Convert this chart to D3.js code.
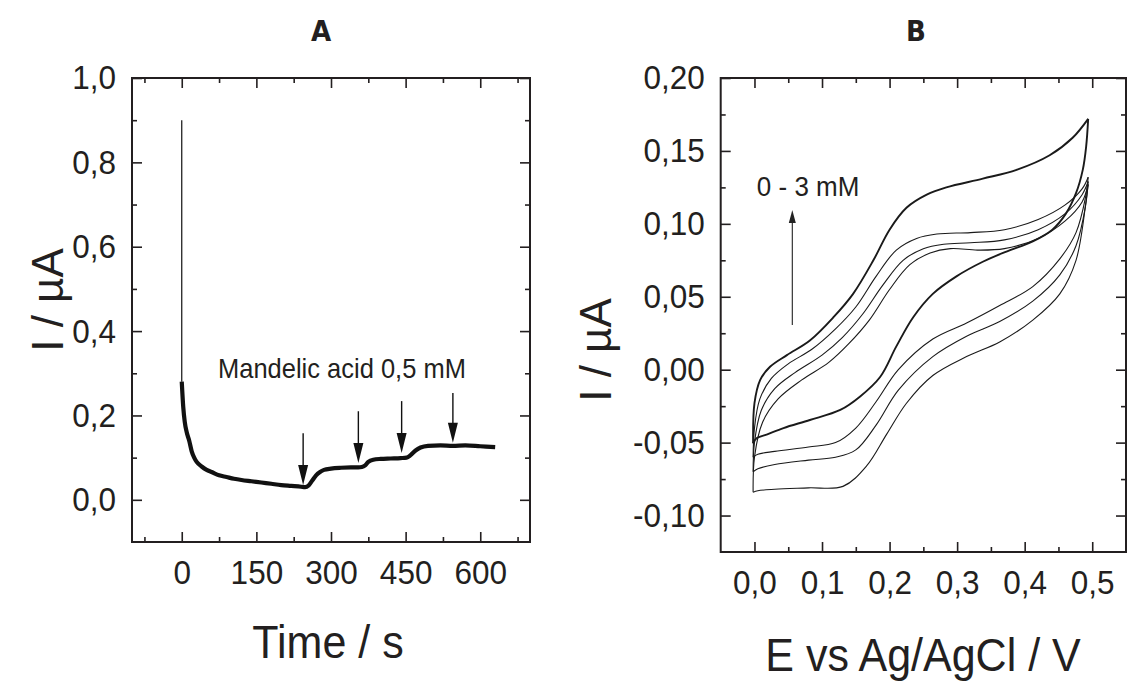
<!DOCTYPE html>
<html><head><meta charset="utf-8">
<script src="https://cdn.jsdelivr.net/npm/d3@7"></script>
<style>
html,body{margin:0;padding:0;background:#fff;}
svg{display:block;}
text{font-family:"Liberation Sans",Arial,sans-serif;fill:#231f20;}
.st{transform-box:fill-box;transform-origin:center;transform:scaleY(1.08);}
</style></head><body>
<svg id="c" width="1127" height="682"></svg>
<script>
// ---------- Panel A data (amperometry) ----------
const timeA = [0,3,6,10,15,20,25,30,40,50,60,75,90,105,120,140,160,180,200,220,240,248,255,262,270,278,286,300,320,340,355,362,368,375,385,400,420,440,452,460,470,480,495,520,545,570,600,630];
const currentA = [0.28,0.22,0.185,0.16,0.14,0.115,0.1,0.09,0.079,0.071,0.066,0.058,0.054,0.05,0.047,0.044,0.041,0.038,0.035,0.033,0.031,0.030,0.034,0.045,0.058,0.066,0.071,0.074,0.076,0.077,0.077,0.078,0.081,0.09,0.095,0.097,0.098,0.099,0.1,0.106,0.117,0.124,0.128,0.129,0.128,0.129,0.127,0.125];
const spikeTimeA = [0,0];
const spikeCurrentA = [0.9,0.28];
const arrowTimesA = [244,355,442,545];
const arrowTopA = [0.158,0.21,0.234,0.253];
const arrowTipA = [0.035,0.087,0.111,0.135];
const xTicksA = [0,150,300,450,600];
const xTickLabelsA = ["0","150","300","450","600"];
const xMinorA = [-75,75,225,375,525,675];
const yTicksA = [0,0.2,0.4,0.6,0.8,1.0];
const yTickLabelsA = ["0,0","0,2","0,4","0,6","0,8","1,0"];
const yMinorA = [0.1,0.3,0.5,0.7,0.9];

// ---------- Panel B data (cyclic voltammograms) ----------
const eFwd1 = [-0.002,0.0,0.0085,0.023,0.048,0.082,0.117,0.146,0.176,0.2,0.225,0.255,0.284,0.338,0.388,0.437,0.471,0.494];
const iFwd1 = [-0.0505,-0.023,-0.007,0.002,0.010,0.020,0.036,0.052,0.075,0.096,0.111,0.120,0.125,0.131,0.137,0.147,0.159,0.172];
const eRev1 = [0.494,0.491,0.486,0.476,0.461,0.441,0.412,0.373,0.338,0.299,0.264,0.235,0.21,0.186,0.156,0.127,0.082,0.043,0.018,0.003,-0.002];
const iRev1 = [0.172,0.153,0.137,0.121,0.107,0.096,0.088,0.081,0.074,0.064,0.052,0.036,0.016,-0.005,-0.0185,-0.0276,-0.0345,-0.040,-0.0445,-0.047,-0.0505];
const eFwd2 = [-0.002,0.0,0.008,0.025,0.05,0.085,0.12,0.15,0.18,0.21,0.24,0.27,0.32,0.37,0.42,0.46,0.485,0.494];
const iFwd2 = [-0.06,-0.04,-0.02,-0.006,0.004,0.014,0.028,0.043,0.064,0.082,0.09,0.093,0.094,0.096,0.103,0.113,0.124,0.132];
const eRev2 = [0.494,0.49,0.476,0.452,0.412,0.363,0.314,0.264,0.213,0.18,0.15,0.12,0.08,0.03,0.005,-0.002];
const iRev2 = [0.132,0.118,0.094,0.076,0.057,0.044,0.032,0.021,0.0,-0.022,-0.04,-0.05,-0.053,-0.056,-0.058,-0.06];
const eFwd3 = [-0.002,0.0,0.01,0.03,0.06,0.1,0.13,0.16,0.19,0.22,0.25,0.28,0.32,0.37,0.42,0.46,0.485,0.494];
const iFwd3 = [-0.07,-0.05,-0.028,-0.013,-0.002,0.01,0.022,0.038,0.058,0.075,0.083,0.086,0.087,0.089,0.096,0.107,0.12,0.129];
const eRev3 = [0.494,0.49,0.476,0.452,0.412,0.363,0.314,0.264,0.213,0.18,0.15,0.12,0.08,0.03,0.005,-0.002];
const iRev3 = [0.129,0.112,0.085,0.065,0.047,0.033,0.023,0.009,-0.014,-0.038,-0.055,-0.06,-0.062,-0.065,-0.068,-0.07];
const eFwd4 = [-0.002,0.0,0.012,0.035,0.07,0.11,0.14,0.17,0.2,0.23,0.26,0.29,0.33,0.37,0.42,0.46,0.485,0.494];
const iFwd4 = [-0.084,-0.06,-0.036,-0.02,-0.007,0.005,0.018,0.034,0.055,0.072,0.08,0.083,0.082,0.083,0.09,0.102,0.115,0.127];
const eRev4 = [0.494,0.491,0.476,0.452,0.412,0.363,0.314,0.264,0.225,0.196,0.166,0.131,0.08,0.03,0.005,-0.002];
const iRev4 = [0.127,0.116,0.075,0.052,0.034,0.019,0.009,-0.004,-0.023,-0.044,-0.066,-0.08,-0.081,-0.082,-0.083,-0.084];
const arrowB = {e:0.056, from:0.0306, to:0.1095};
const xTicksB = [0,0.1,0.2,0.3,0.4,0.5];
const xTickLabelsB = ["0,0","0,1","0,2","0,3","0,4","0,5"];
const xMinorB = [0.05,0.15,0.25,0.35,0.45];
const yTicksB = [-0.10,-0.05,0,0.05,0.10,0.15,0.20];
const yTickLabelsB = ["-0,10","-0,05","0,00","0,05","0,10","0,15","0,20"];
const yMinorB = [-0.075,-0.025,0.025,0.075,0.125,0.175];

const INK = "#231f20";
const svg = d3.select("#c");

function frameAxes(x, y, xT, xL, xm, yT, yL, ym){
  const [x0,x1] = x.range(); const [y0,y1] = y.range(); // y0 bottom
  const g = svg.append("g");
  const mk = (axis, tr, vals, size, fmt) => {
    const a = g.append("g").attr("transform", tr)
      .call(axis.tickValues(vals).tickSize(size).tickPadding(size===-10?19:0).tickFormat(fmt));
    a.select(".domain").remove();
    a.selectAll("line").attr("stroke", INK).attr("stroke-width", 1.6);
    return a;
  };
  const bx = mk(d3.axisBottom(x), `translate(0,${y0})`, xT, -10, (d,i)=>xL[i]);
  bx.selectAll("text").attr("font-size", 31.5).attr("fill", INK).attr("class","st");
  mk(d3.axisBottom(x), `translate(0,${y0})`, xm, -5, ()=>"");
  mk(d3.axisTop(x), `translate(0,${y1})`, xT, -10, ()=>"");
  mk(d3.axisTop(x), `translate(0,${y1})`, xm, -5, ()=>"");
  const ly = g.append("g").attr("transform", `translate(${x0},0)`)
    .call(d3.axisLeft(y).tickValues(yT).tickSize(-10).tickPadding(16).tickFormat((d,i)=>yL[i]));
  ly.select(".domain").remove();
  ly.selectAll("line").attr("stroke", INK).attr("stroke-width", 1.6);
  ly.selectAll("text").attr("font-size", 31.5).attr("fill", INK).attr("class","st");
  mk(d3.axisLeft(y), `translate(${x0},0)`, ym, -5, ()=>"");
  mk(d3.axisRight(y), `translate(${x1},0)`, yT, -10, ()=>"");
  mk(d3.axisRight(y), `translate(${x1},0)`, ym, -5, ()=>"");
  g.append("rect").attr("x", x0).attr("y", y1).attr("width", x1-x0).attr("height", y0-y1)
    .attr("fill","none").attr("stroke", INK).attr("stroke-width", 2);
}

// ---------- Panel A ----------
const xA = d3.scaleLinear().domain([-100,700]).range([132,530]);
const yA = d3.scaleLinear().domain([-0.1,1.0]).range([542,78]);
frameAxes(xA, yA, xTicksA, xTickLabelsA, xMinorA, yTicksA, yTickLabelsA, yMinorA);

const lineA = d3.line().x(d=>xA(d[0])).y(d=>yA(d[1])).curve(d3.curveMonotoneX);
svg.append("path").datum(timeA.map((t,i)=>[t,currentA[i]]))
  .attr("d", lineA).attr("fill","none").attr("stroke","#111").attr("stroke-width",4.2).attr("stroke-linejoin","round");
svg.append("path").datum(spikeTimeA.map((t,i)=>[t,spikeCurrentA[i]]))
  .attr("d", d3.line().x(d=>xA(d[0])).y(d=>yA(d[1]))).attr("fill","none").attr("stroke","#111").attr("stroke-width",1.2);

arrowTimesA.forEach((t,i)=>{
  const x = xA(t), yt = yA(arrowTopA[i]), yb = yA(arrowTipA[i]);
  svg.append("line").attr("x1",x).attr("x2",x).attr("y1",yt).attr("y2",yb-10).attr("stroke","#111").attr("stroke-width",1.4);
  svg.append("path").attr("d",`M${x-5},${yb-20}L${x+5},${yb-20}L${x},${yb}Z`).attr("fill","#111");
});
svg.append("text").attr("x", xA(73)).attr("y", yA(0.291)).attr("font-size", 25.5).attr("class","st")
  .text("Mandelic acid 0,5 mM");

svg.append("text").attr("x", 328).attr("y", 657).attr("text-anchor","middle").attr("font-size", 43).attr("class","st").text("Time / s");
svg.append("text").attr("transform","translate(63,300) rotate(-90)").attr("text-anchor","middle").attr("font-size", 44).text("I / µA");
svg.append("text").attr("x", 321).attr("y", 41).attr("text-anchor","middle").attr("font-size", 29)
  .style("font-family","'DejaVu Sans Condensed','DejaVu Sans',sans-serif").attr("font-weight","bold").text("A");

// ---------- Panel B ----------
const xB = d3.scaleLinear().domain([-0.05,0.55]).range([720.7,1126]);
const yB = d3.scaleLinear().domain([-0.125,0.2]).range([552,78]);
frameAxes(xB, yB, xTicksB, xTickLabelsB, xMinorB, yTicksB, yTickLabelsB, yMinorB);

const lineB = d3.line().x(d=>xB(d[0])).y(d=>yB(d[1])).curve(d3.curveCatmullRom.alpha(0.5));
const cvs = [
  [eFwd1,iFwd1,1.9],[eRev1,iRev1,1.9],
  [eFwd2,iFwd2,1.1],[eRev2,iRev2,1.1],
  [eFwd3,iFwd3,1.1],[eRev3,iRev3,1.1],
  [eFwd4,iFwd4,1.1],[eRev4,iRev4,1.1]
];
cvs.forEach(([es,is,w])=>{
  svg.append("path").datum(es.map((e,i)=>[e,is[i]])).attr("d", lineB)
    .attr("fill","none").attr("stroke","#1a1a1a").attr("stroke-width",w);
});
{
  const x = xB(arrowB.e), yt = yB(arrowB.to), yb = yB(arrowB.from);
  svg.append("line").attr("x1",x).attr("x2",x).attr("y1",yb).attr("y2",yt+8).attr("stroke","#222").attr("stroke-width",1.1);
  svg.append("path").attr("d",`M${x-3.5},${yt+13}L${x+3.5},${yt+13}L${x},${yt}Z`).attr("fill","#222");
}
svg.append("text").attr("x", xB(0.0035)).attr("y", yB(0.1196)).attr("font-size", 26).attr("class","st").text("0 - 3 mM");

svg.append("text").attr("x", 923).attr("y", 670).attr("text-anchor","middle").attr("font-size", 43).attr("class","st").text("E vs Ag/AgCl / V");
svg.append("text").attr("transform","translate(611,350) rotate(-90)").attr("text-anchor","middle").attr("font-size", 44).text("I / µA");
svg.append("text").attr("x", 916).attr("y", 41).attr("text-anchor","middle").attr("font-size", 29)
  .style("font-family","'DejaVu Sans Condensed','DejaVu Sans',sans-serif").attr("font-weight","bold").text("B");
</script>
</body></html>
